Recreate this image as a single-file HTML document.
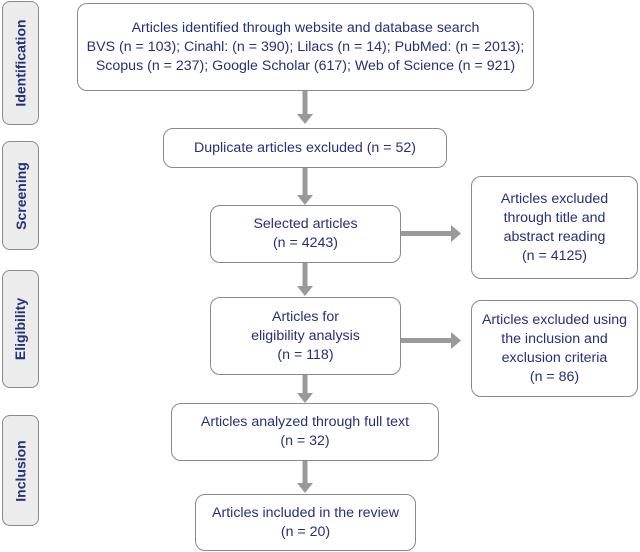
<!DOCTYPE html>
<html><head><meta charset="utf-8"><style>
body{margin:0;width:640px;height:552px;background:#fff;position:relative;overflow:hidden;font-family:"Liberation Sans",sans-serif}
.b{position:absolute;box-sizing:border-box;border:1.5px solid #8a8a8a;border-radius:10px;background:#fff;display:flex;align-items:center;justify-content:center;text-align:center;color:#24307a;font-size:14.2px;line-height:19px}
.s{position:absolute;box-sizing:border-box;left:2px;width:37px;border:1.5px solid #8a8a8a;border-radius:8px;background:#ececec;display:flex;align-items:center;justify-content:center}
.s span{transform:rotate(-90deg);white-space:nowrap;font-weight:bold;color:#24307a;font-size:14px}
svg{position:absolute;left:0;top:0}
</style></head><body>
<div class="s" style="top:1px;height:124px"><span>Identification</span></div>
<div class="s" style="top:141px;height:109px"><span>Screening</span></div>
<div class="s" style="top:270px;height:118px"><span>Eligibility</span></div>
<div class="s" style="top:415px;height:111px"><span>Inclusion</span></div>
<svg width="640" height="552">
<g fill="#9a9a9a">
<rect x="302.5" y="91" width="5" height="24"/><polygon points="297,114 313,114 305,124"/>
<rect x="302.5" y="167" width="5" height="29"/><polygon points="297,195 313,195 305,205"/>
<rect x="302.5" y="262" width="5" height="25"/><polygon points="297,286 313,286 305,296"/>
<rect x="302.5" y="374" width="5" height="20"/><polygon points="297,393 313,393 305,403"/>
<rect x="302.5" y="460" width="5" height="24"/><polygon points="297,483 313,483 305,493"/>
<rect x="400" y="231" width="52" height="5"/><polygon points="451,225 451,242 461,233.5"/>
<rect x="400" y="338" width="52" height="5"/><polygon points="451,332 451,349 461,340.5"/>
</g></svg>
<div class="b" style="left:77px;top:3px;width:457px;height:88px">Articles identified through website and database search<br>BVS (n = 103); Cinahl: (n = 390); Lilacs (n = 14); PubMed: (n = 2013);<br>Scopus (n = 237); Google Scholar (617); Web of Science (n = 921)</div>
<div class="b" style="left:163px;top:128px;width:284px;height:40px">Duplicate articles excluded (n = 52)</div>
<div class="b" style="left:210px;top:205px;width:191px;height:58px">Selected articles<br>(n = 4243)</div>
<div class="b" style="left:471px;top:176px;width:167px;height:103px">Articles excluded<br>through title and<br>abstract reading<br>(n = 4125)</div>
<div class="b" style="left:210px;top:297px;width:191px;height:78px">Articles for<br>eligibility analysis<br>(n = 118)</div>
<div class="b" style="left:471px;top:300px;width:167px;height:97px">Articles excluded using<br>the inclusion and<br>exclusion criteria<br>(n = 86)</div>
<div class="b" style="left:171px;top:403px;width:268px;height:58px">Articles analyzed through full text<br>(n = 32)</div>
<div class="b" style="left:195px;top:494px;width:221px;height:57px">Articles included in the review<br>(n = 20)</div>
</body></html>
